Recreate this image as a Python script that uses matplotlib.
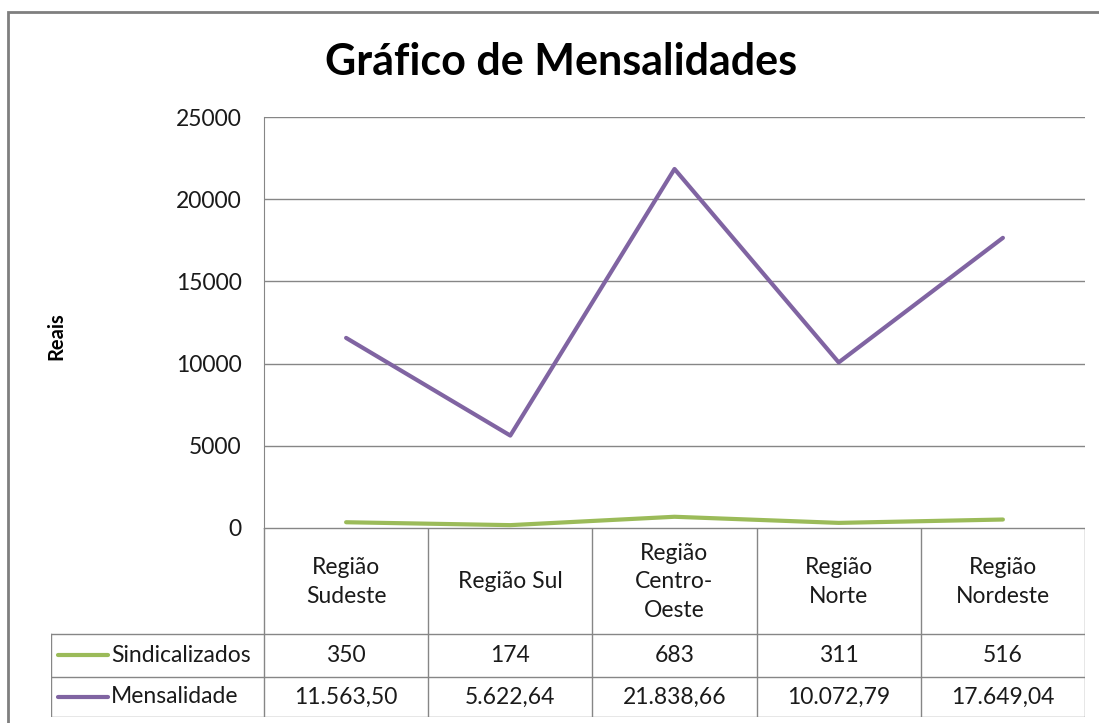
import matplotlib.pyplot as plt
from matplotlib.lines import Line2D
from matplotlib.patches import Rectangle

regioes = ['Região\nSudeste', 'Região Sul', 'Região\nCentro-\nOeste', 'Região\nNorte', 'Região\nNordeste']
sindicalizados = [350, 174, 683, 311, 516]
mensalidade = [11563.50, 5622.64, 21838.66, 10072.79, 17649.04]
series_nomes = ['Sindicalizados', 'Mensalidade']
yticks = [0, 5000, 10000, 15000, 20000, 25000]

verde = '#9BBB59'
roxo = '#8064A2'
grade = '#868686'
fonte = 'Lato'
fs = 16.5

W, H = 1099, 723
fig = plt.figure(figsize=(W / 100, H / 100), dpi=100)
fig.patch.set_facecolor('white')

# moldura do grafico (sai pela direita e por baixo)
fig.add_artist(Rectangle((8 / W, -0.1), 1.2, (H - 12) / H + 0.1, transform=fig.transFigure,
                         fill=False, edgecolor='#7F7F7F', linewidth=2))

# area do grafico
x0, x1 = 264, 1085
y_top, y_bot = 117, 528
ax = fig.add_axes([x0 / W, (H - y_bot) / H, (x1 - x0) / W, (y_bot - y_top) / H])
xs = range(len(regioes))
ax.plot(xs, sindicalizados, color=verde, linewidth=3, solid_capstyle='round')
ax.plot(xs, mensalidade, color=roxo, linewidth=3, solid_capstyle='round')
ax.set_xlim(-0.5, len(regioes) - 0.5)
ax.set_ylim(0, 25000)
ax.set_yticks(yticks)
ax.set_yticklabels([str(v) for v in yticks], fontsize=fs, family=fonte, color='#1a1a1a')
ax.tick_params(axis='y', length=0, pad=16)
ax.set_xticks([])
ax.grid(axis='y', color=grade, linewidth=1)
ax.set_axisbelow(True)
for lado in ['top', 'right', 'bottom']:
    ax.spines[lado].set_visible(False)
ax.spines['left'].set_color(grade)

fig.text(56 / W, 1 - 336 / H, 'Reais', rotation=90, ha='center', va='center',
         fontsize=14.5, fontweight='bold', family=fonte)
fig.text(561 / W, 1 - 62 / H, 'Gráfico de Mensalidades', ha='center', va='center',
         fontsize=31, fontweight='bold', family=fonte)

# tabela de dados
t_left = 51
cw = (x1 - x0) / len(regioes)
tab = fig.add_axes([t_left / W, (H - 717) / H, (x1 - t_left) / W, (717 - y_bot) / H])
tab.set_xlim(-0.5 - (x0 - t_left) / cw, len(regioes) - 0.5)
tab.set_ylim(717, y_bot)
tab.axis('off')
lx = -0.5 - (x0 - t_left) / cw
lk = dict(color=grade, linewidth=1)
tab.plot([-0.5, len(regioes) - 0.5], [y_bot, y_bot], **lk)
for yy in [634, 677, 717]:
    tab.plot([lx, len(regioes) - 0.5], [yy, yy], **lk)
for i in range(len(regioes) + 1):
    tab.plot([i - 0.5, i - 0.5], [y_bot, 717], **lk)
tab.plot([lx, lx], [634, 717], **lk)

for i, nome in enumerate(regioes):
    tab.text(i, (y_bot + 634) / 2 + 1, nome, ha='center', va='center', fontsize=fs,
             family=fonte, linespacing=1.42, color='#1a1a1a')
    tab.text(i, (634 + 677) / 2, str(sindicalizados[i]), ha='center', va='center',
             fontsize=fs, family=fonte, color='#1a1a1a')
    txt = f'{mensalidade[i]:,.2f}'.replace(',', 'X').replace('.', ',').replace('X', '.')
    tab.text(i, (677 + 717) / 2, txt, ha='center', va='center', fontsize=fs,
             family=fonte, color='#1a1a1a')

for nome, cor, (ya, yb) in zip(series_nomes, [verde, roxo], [(634, 677), (677, 717)]):
    ym = (ya + yb) / 2
    tab.add_line(Line2D([lx + 7 / cw, lx + 57 / cw], [ym, ym], color=cor, linewidth=3,
                        solid_capstyle='round'))
    tab.text(lx + 60 / cw, ym, nome, ha='left', va='center', fontsize=fs, family=fonte,
             color='#1a1a1a')

fig.savefig('out.png', dpi=100)
